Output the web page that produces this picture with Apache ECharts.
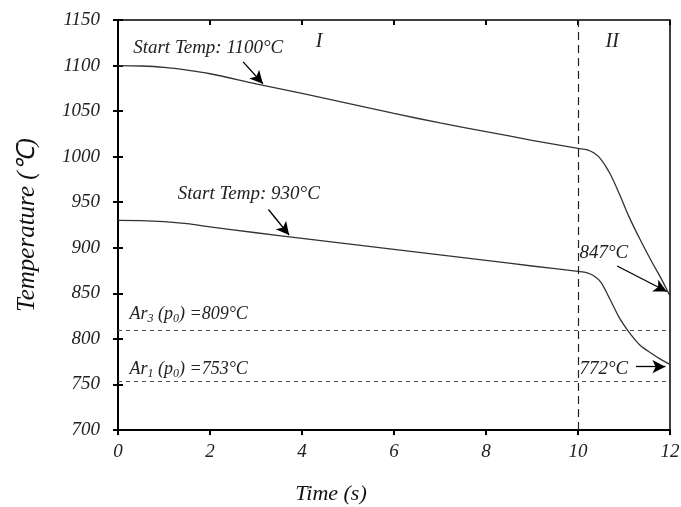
<!DOCTYPE html>
<html>
<head>
  <meta charset="UTF-8">
  <title>Temperature vs Time</title>
  <script src="https://cdn.jsdelivr.net/npm/echarts/dist/echarts.min.js"></script>
  <style>
    html, body { margin: 0; padding: 0; background: #fff; }
    #main { width: 681px; height: 507px; }
  </style>
</head>
<body>
  <div id="main"></div>
  <script>
    // time (s) and the two cooling curves (°C)
    const times = [0, 0.5, 1, 1.5, 2, 3, 4, 5, 6, 7, 8, 9, 10, 10.2, 10.35, 10.5, 10.7, 10.9, 11.1, 11.35, 11.6, 11.8, 12];
    const temp1100 = [1100, 1099.5, 1098, 1095, 1091, 1080, 1069.5, 1058.5, 1047.5, 1037, 1027.5, 1018, 1009, 1007.5, 1004, 997, 981, 959, 935, 909, 885, 867, 847];
    const temp930 = [930, 929.8, 928.7, 926.5, 923, 916.5, 910.4, 904.3, 898.2, 892.2, 886.1, 880, 874, 872.5, 869, 862, 843, 823, 808, 793, 784, 777.5, 772];
    const ar3 = 809;
    const ar1 = 753;
    const stageSplit = 10;
    const xTicks = { min: 0, max: 12, interval: 2 };
    const yTicks = { min: 700, max: 1150, interval: 50 };

    const FONT = "'Liberation Serif', 'Times New Roman', serif";
    const pair = (xs, ys) => xs.map((x, i) => [x, ys[i]]);

    const textStyle = { fontFamily: FONT, fontStyle: 'italic', fontSize: 19, color: '#222' };
    const note = (coord, text, extra) => ({
      coord: coord,
      symbol: 'circle',
      symbolSize: 0,
      label: Object.assign({ show: true, position: 'right', distance: 0, formatter: text }, textStyle, extra || {})
    });
    const arText = (n, v) => '{a|Ar}{s|' + n + '}{a| (p}{s|0}{a|) =' + v + '°C}';
    const arRich = {
      a: { fontFamily: FONT, fontStyle: 'italic', fontSize: 18, color: '#222' },
      s: { fontFamily: FONT, fontStyle: 'italic', fontSize: 12, color: '#222', padding: [9, 0, 0, 0] }
    };
    const arrow = (from, to) => [
      { coord: from, symbol: 'none' },
      { coord: to, symbol: 'arrow', symbolSize: [10, 13] }
    ];

    const chart = echarts.init(document.getElementById('main'));

    const axisX = (extra) => Object.assign({
      type: 'value', min: xTicks.min, max: xTicks.max, interval: xTicks.interval,
      splitLine: { show: false }
    }, extra);
    const axisY = (extra) => Object.assign({
      type: 'value', min: yTicks.min, max: yTicks.max, interval: yTicks.interval,
      splitLine: { show: false }
    }, extra);

    chart.setOption({
      animation: false,
      grid: {
        left: 118, right: 11, top: 20, bottom: 77,
        outerBoundsMode: 'none',
        show: true, borderColor: '#000', borderWidth: 1.5
      },
      xAxis: [
        axisX({
          name: 'Time (s)', nameLocation: 'middle', nameGap: 53,
          nameTextStyle: { fontFamily: FONT, fontStyle: 'italic', fontSize: 22, color: '#111', padding: [0, 126, 0, 0] },
          axisLine: { lineStyle: { color: '#000', width: 2 } },
          axisTick: { inside: false, length: 5, lineStyle: { color: '#000', width: 2 } },
          axisLabel: { margin: 12, fontFamily: FONT, fontStyle: 'italic', fontSize: 19, color: '#222' }
        }),
        axisX({
          axisLine: { show: false },
          axisTick: { inside: true, length: 5, lineStyle: { color: '#000', width: 2 } },
          axisLabel: { show: false }
        })
      ],
      yAxis: [
        axisY({
          name: 'Temperature (℃)', nameLocation: 'middle', nameGap: 78,
          nameTextStyle: { fontFamily: FONT, fontStyle: 'italic', fontSize: 25, color: '#111' },
          axisLine: { show: true, lineStyle: { color: '#000', width: 2 } },
          axisTick: { show: true, inside: false, length: 5, lineStyle: { color: '#000', width: 2 } },
          axisLabel: { margin: 18, fontFamily: FONT, fontStyle: 'italic', fontSize: 19, color: '#222', formatter: (v) => String(v) }
        }),
        axisY({
          position: 'left',
          axisLine: { show: false },
          axisTick: { show: true, inside: true, length: 5, lineStyle: { color: '#000', width: 2 } },
          axisLabel: { show: false }
        })
      ],
      series: [
        {
          name: 'Start 1100',
          type: 'line',
          data: pair(times, temp1100),
          smooth: 0.3,
          showSymbol: false,
          lineStyle: { color: '#333', width: 1.3 },
          markLine: {
            silent: true,
            symbol: ['none', 'none'],
            label: { show: false },
            data: [
              { yAxis: ar3, lineStyle: { color: '#555', type: [4, 4], width: 1.2 } },
              { yAxis: ar1, lineStyle: { color: '#555', type: [4, 4], width: 1.2 } },
              { xAxis: stageSplit, lineStyle: { color: '#222', type: [8, 5], width: 1.2 } }
            ]
          },
          markPoint: {
            silent: true,
            data: [
              note([0.33, 1119], 'Start Temp: 1100°C'),
              note([1.3, 959], 'Start Temp: 930°C'),
              note([10.03, 894], '847°C'),
              note([10.03, 767], '772°C'),
              note([4.3, 1126], 'I', { fontSize: 20 }),
              note([10.6, 1126], 'II', { fontSize: 20 }),
              { coord: [0.25, 827], symbol: 'circle', symbolSize: 0,
                label: { show: true, position: 'right', distance: 0, formatter: arText(3, ar3), rich: arRich } },
              { coord: [0.25, 767], symbol: 'circle', symbolSize: 0,
                label: { show: true, position: 'right', distance: 0, formatter: arText(1, ar1), rich: arRich } }
            ]
          }
        },
        {
          name: 'Start 930',
          type: 'line',
          data: pair(times, temp930),
          smooth: 0.3,
          showSymbol: false,
          lineStyle: { color: '#333', width: 1.3 },
          markLine: {
            silent: true,
            label: { show: false },
            lineStyle: { color: '#000', type: 'solid', width: 1.3 },
            data: [
              arrow([2.72, 1104], [3.15, 1080]),
              arrow([3.27, 942], [3.72, 914]),
              arrow([10.85, 880], [11.93, 852]),
              arrow([11.26, 769.5], [11.9, 769.5])
            ]
          }
        }
      ]
    });
  </script>
</body>
</html>
